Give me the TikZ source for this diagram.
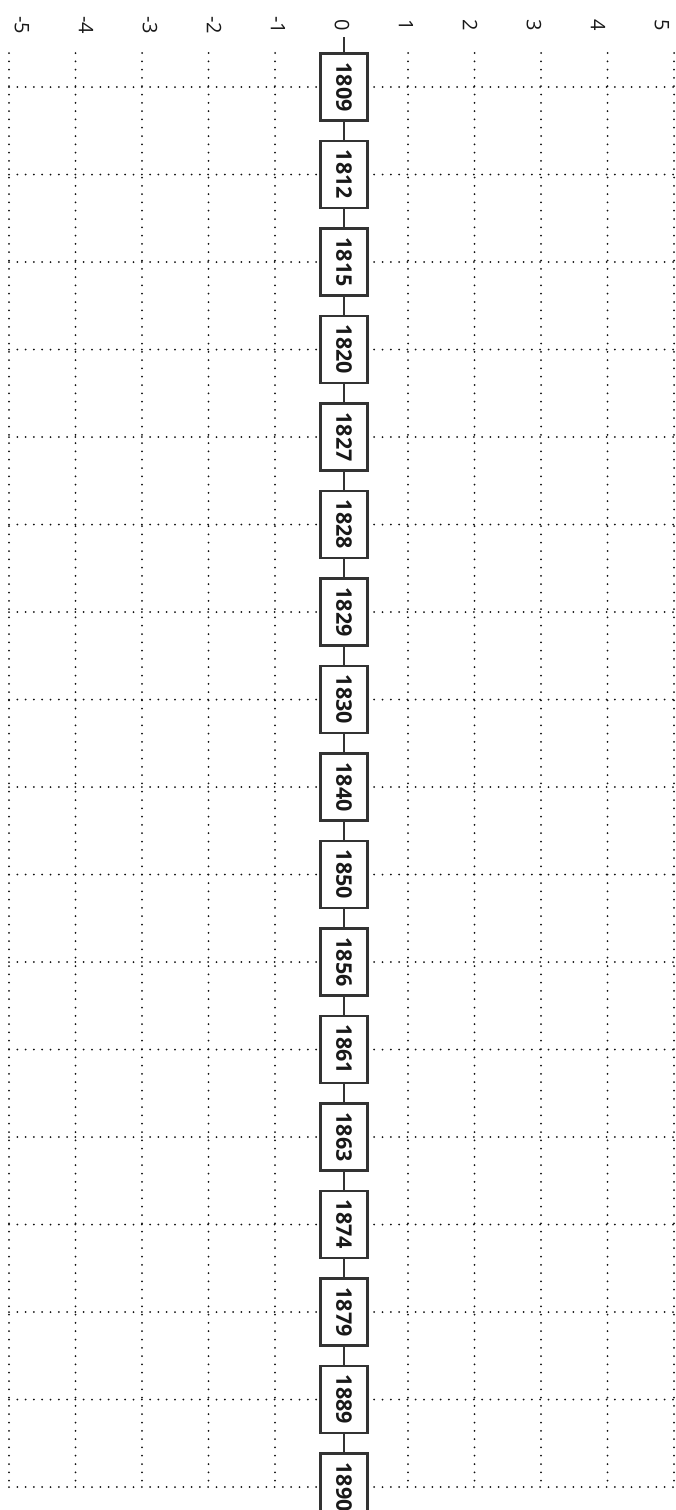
\documentclass[tikz,border=0pt]{standalone}
\usepackage{fontspec}
\setmainfont{Open Sans}
\usetikzlibrary{positioning}
\definecolor{boxline}{HTML}{333333}
\definecolor{dotgray}{HTML}{111111}

\begin{document}
\begin{tikzpicture}[
	x=1pt, y=-1pt,
	every node/.style={rotate=-90, text=black!90},
	year/.style={draw=boxline, line width=2.2pt, fill=white, inner sep=0pt,
		minimum width=67pt, minimum height=47pt, font=\fontsize{21.5}{21.5}\selectfont\bfseries},
	tick/.style={inner sep=2pt, font=\fontsize{20}{20}\selectfont},
	gridline/.style={dotgray, line width=2pt, line cap=round, dash pattern=on 0pt off 8.3pt},
	link/.style={boxline, line width=2.2pt}
	]
	\useasboundingbox (0,0) rectangle (676,1510);
	
	% dotted grid
	\foreach \k in {0,...,10}{
		\ifnum\k=5\else
		\draw[gridline] ({9+66.5*\k},53) -- ({9+66.5*\k},1487);
		\fi
	}
	\foreach \i in {0,...,16}
	\draw[gridline] (9,{87+87.5*\i}) -- (674,{87+87.5*\i});
	
	% scale
	\foreach \v [count=\k from 0] in {-5,...,5}
	\node[tick] (t\k) at ({22+64*\k},25) {\v};
	
	% years
	\foreach \yr [count=\i from 0] in {1809,1812,1815,1820,1827,1828,1829,1830,1840,1850,1856,1861,1863,1874,1879,1889,1890}
	\node[year] (y\i) at (344,{87+87.5*\i}) {\yr};
	
	\coordinate (stem) at (344,37);
	\draw[link] (stem) -- (y0);
	\foreach \i [remember=\i as \j (initially 0)] in {1,...,16}
	\draw[link] (y\j) -- (y\i);
	
\end{tikzpicture}
\end{document}
